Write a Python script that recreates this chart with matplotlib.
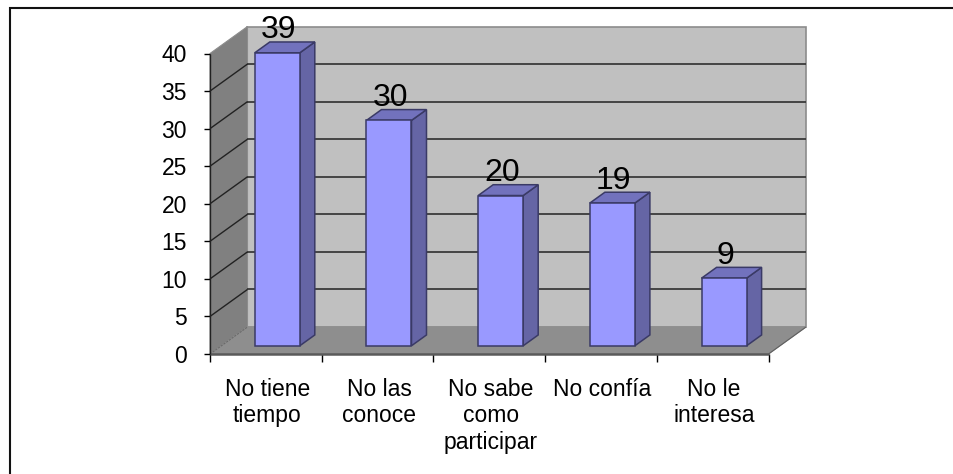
import matplotlib
matplotlib.use("Agg")
import matplotlib.pyplot as plt
from matplotlib.lines import Line2D
from matplotlib.patches import Polygon

categories = ["No tiene\ntiempo", "No las\nconoce", "No sabe\ncomo\nparticipar", "No confía", "No le\ninteresa"]
values = [39, 30, 20, 19, 9]
y_ticks = [0, 5, 10, 15, 20, 25, 30, 35, 40]

W, H = 954, 474
plt.rcParams['font.family'] = ['Liberation Sans', 'DejaVu Sans']
fig = plt.figure(figsize=(W / 100, H / 100), dpi=100)
fig.patch.set_facecolor('white')
# frame: only the top and left edges fall inside the picture
fig.add_artist(Line2D([10.5 / W, 10.5 / W, 1], [0, 1 - 7.5 / H, 1 - 7.5 / H], transform=fig.transFigure,
                      color='#111111', lw=1.5, solid_joinstyle='miter'))

L, R, T, B = 210, 768.5, 53.5, 354
ax = fig.add_axes([L / W, 1 - B / H, (R - L) / W, (B - T) / H])
n = len(categories)
ax.set_xlim(0, n)
ax.set_ylim(0, 40)
ax.patch.set_visible(False)
for s in ax.spines.values():
    s.set_visible(False)

# depth of the pseudo-3D box, in data units
DX = 37.5 / ((R - L) / n)
DY = 27.0 / ((B - T) / 40)


def P(x, y, f):
    return (x + f * DX, y + f * DY)


def poly(pts, **kw):
    ax.add_patch(Polygon([P(*p) for p in pts], closed=True, clip_on=False, **kw))


def line(p, q, **kw):
    a, b = P(*p), P(*q)
    ax.plot([a[0], b[0]], [a[1], b[1]], clip_on=False, solid_capstyle='butt', **kw)


poly([(0, 0, 1), (n, 0, 1), (n, 40, 1), (0, 40, 1)], fc='#c0c0c0', ec='#8c8c8c', lw=1.2, zorder=1)
poly([(0, 0, 0), (0, 40, 0), (0, 40, 1), (0, 0, 1)], fc='#808080', ec='#8c8c8c', lw=0.8, zorder=1)
poly([(0, 0, 0), (n, 0, 0), (n, 0, 1), (0, 0, 1)], fc='#8e8e8e', ec='#8e8e8e', lw=0.8, zorder=1)
line((0, 0, 0), (n, 0, 0), color='#5a5a5a', lw=1.8, zorder=2)

for v in y_ticks[1:-1]:
    line((0, v, 1), (n, v, 1), color='#3a3a3a', lw=1.3, zorder=2)
    line((0, v, 0), (0, v, 1), color='#222222', lw=1.0, zorder=2)
line((0, 0, 0), (0, 0, 1), color='#6a6a6a', lw=0.8, ls=(0, (2, 1)), zorder=2)
line((n, 0, 0), (n, 0, 1), color='#5f5f5f', lw=0.8, zorder=2)

# bars
bw = 0.403
f0, f1 = 0.305, 0.705
for i, v in enumerate(values):
    x0, x1 = i + 0.5 - bw / 2, i + 0.5 + bw / 2
    poly([(x1, 0, f0), (x1, 0, f1), (x1, v, f1), (x1, v, f0)], fc='#6565a5', ec='#3a3a66', lw=1.1, zorder=3)
    poly([(x0, v, f0), (x1, v, f0), (x1, v, f1), (x0, v, f1)], fc='#7272bd', ec='#3a3a66', lw=1.1, zorder=3)
    bx, by = P(i + 0.5, 0, f0)
    ax.bar(bx, v, bw, bottom=by, color='#9999ff', ec='#3a3a66', lw=1.1, zorder=4, clip_on=False)
    ax.annotate(str(v), P(i + 0.5, v, 0.5), xytext=(-4.3, 1.5), textcoords='offset points',
                ha='center', va='bottom', fontsize=23, color='black', zorder=6, annotation_clip=False)

ax.set_xticks(range(n + 1))
ax.set_xticklabels([])
ax.set_yticks(y_ticks)
ax.tick_params(axis='y', length=4.5, width=1, labelsize=16.5, pad=12, color='black')
ax.tick_params(axis='x', length=5.5, width=1, color='black')
line((0, 0, 0), (0, 40, 0), color='#222222', lw=1.0, zorder=2)
for i, c in enumerate(categories):
    ax.annotate(c, (i + 0.5, 0), xytext=(1, -17), textcoords='offset points',
                ha='center', va='top', fontsize=16.5, linespacing=1.2, annotation_clip=False)

fig.savefig('out.png', dpi=100)
